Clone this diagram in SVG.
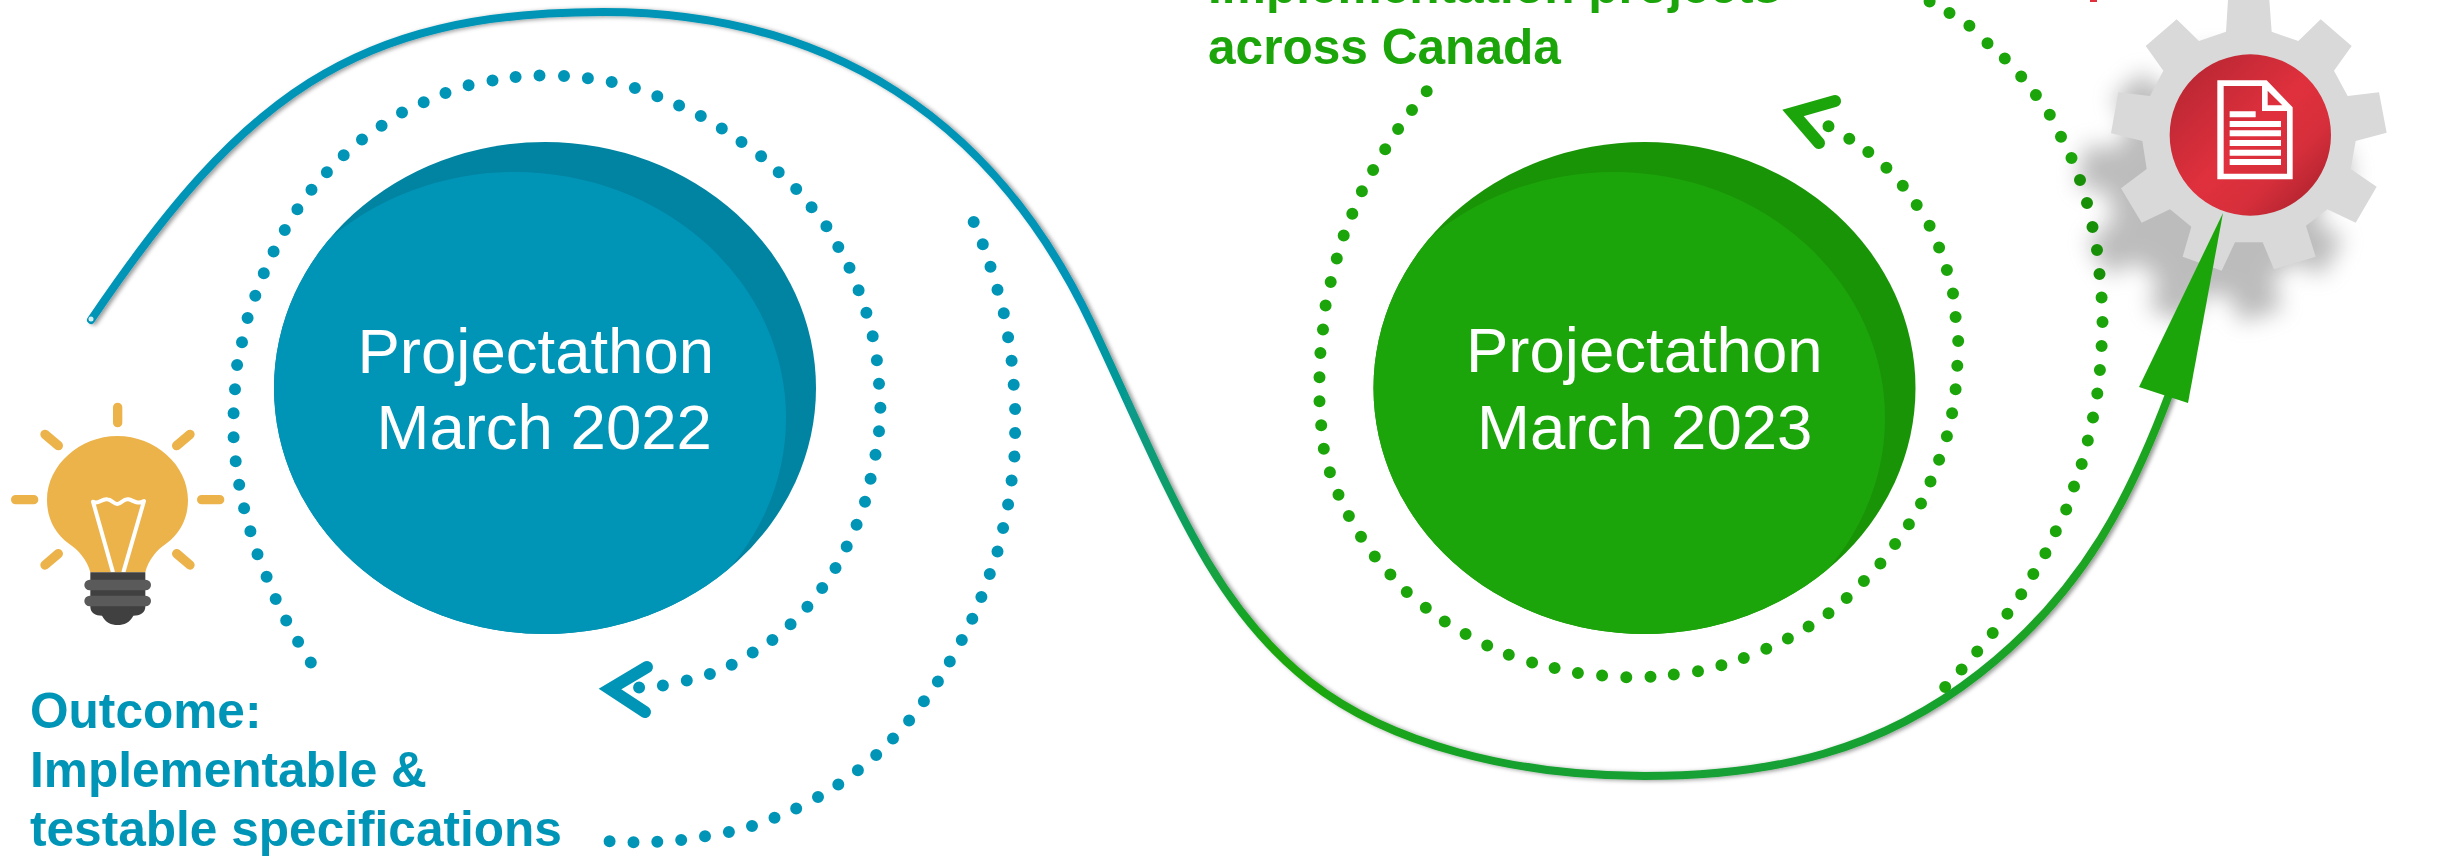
<svg xmlns="http://www.w3.org/2000/svg" width="2455" height="857" viewBox="0 0 2455 857">
<defs>
<linearGradient id="flow" gradientUnits="userSpaceOnUse" x1="1080" y1="0" x2="2172" y2="0">
<stop offset="0" stop-color="#0095b7"/><stop offset="0.18" stop-color="#1ca80a"/><stop offset="0.42" stop-color="#17a032"/><stop offset="0.66" stop-color="#17a035"/><stop offset="1" stop-color="#1ca51e"/>
</linearGradient>
<linearGradient id="redFill" x1="0.1" y1="0.1" x2="0.9" y2="0.9">
<stop offset="0" stop-color="#b92733"/><stop offset="0.5" stop-color="#e0303d"/><stop offset="0.75" stop-color="#d62f3b"/><stop offset="1" stop-color="#b1232e"/>
</linearGradient>
<filter id="lineShadow" filterUnits="userSpaceOnUse" x="60" y="0" width="2150" height="810"><feDropShadow dx="3" dy="1" stdDeviation="2" flood-color="#000" flood-opacity="0.4"/></filter>
<filter id="gearBlur" x="-40%" y="-40%" width="180%" height="180%"><feGaussianBlur stdDeviation="34"/></filter>
<clipPath id="clipBlue"><ellipse cx="545" cy="388" rx="271" ry="246"/></clipPath>
<clipPath id="clipGreen"><ellipse cx="1644.5" cy="388" rx="271" ry="246"/></clipPath>
<path id="gearShape" d="M528 95L534 0H658L665 95L745 123L812 58L905 138L852 212L893 288L987 277L1010 398L917 423L902 507L980 560L917 668L832 628L768 677L797 770L672 808L638 727H555L515 812L398 770L424 680L360 628L275 668L213 565L290 507L277 423L183 400L205 277L300 288L340 212L287 138L380 58L447 123Z"/>
</defs>
<style>
.title{font-family:"Liberation Sans",Arial,sans-serif;font-size:63.5px;fill:#fff}
.label{font-family:"Liberation Sans",Arial,sans-serif;font-weight:700;font-size:49.6px}
.blue{fill:#0095b7}.green{fill:#1ca50a}
.dots{fill:none;stroke-width:12;stroke-linecap:round}
.head{fill:none;stroke-width:12;stroke-linecap:round;stroke-linejoin:miter}
</style>
<rect width="2455" height="857" fill="#fff"/>

<g id="node-bulb" transform="translate(0 390) scale(.33333)">
<path fill="#ecb34b" d="M271 547C262 510 235 480 205 460C165 430 141 385 141 330C141 225 240 138 352 138C465 138 564 225 564 330C564 385 540 430 500 460C470 480 445 510 436 547Z"/>
<path fill="none" stroke="#ecb34b" stroke-width="28" stroke-linecap="round" d="M353 52V98M135 133L175 167M570 133L530 167M47 329H101M605 329H659M175 491L135 525M530 491L570 525"/>
<path fill="none" stroke="#fff" stroke-width="12" stroke-linejoin="round" d="M339 547L279 335C295 345 305 325 322 328C338 330 340 342 352 342C365 342 368 326 385 328C400 330 410 345 432 333L370 547"/>
<path fill="#404040" d="M271 547H436V650C436 668 420 677 400 677C390 697 372 705 353 705C334 705 316 697 306 677C286 677 271 668 271 650Z"/>
<rect x="253" y="569" width="200" height="32" rx="16" fill="#5a5a5a"/>
<rect x="253" y="617" width="200" height="32" rx="16" fill="#5a5a5a"/>
</g>

<g id="node-2022">
<ellipse cx="545" cy="388" rx="271" ry="246" fill="#0084a2"/>
<ellipse cx="515" cy="418" rx="271" ry="246" fill="#0095b7" clip-path="url(#clipBlue)"/>
<text class="title" x="357.500" y="373">Projectathon</text>
<text class="title" x="376.500" y="449">March 2022</text>
</g>

<g id="node-2023">
<ellipse cx="1644.5" cy="388" rx="271" ry="246" fill="#1a9407"/>
<ellipse cx="1614" cy="418" rx="271" ry="246" fill="#1ca50a" clip-path="url(#clipGreen)"/>
<text class="title" x="1466" y="372">Projectathon</text>
<text class="title" x="1477" y="449">March 2023</text>
</g>

<g id="node-gear" transform="translate(2050 0) scale(.33333)">
<use href="#gearShape" fill="#808080" opacity=".52" filter="url(#gearBlur)" transform="translate(-100 158)"/>
<use href="#gearShape" fill="#d9d9d9"/>
<circle cx="601" cy="405" r="242" fill="url(#redFill)"/>
<path fill="#fff" fill-rule="evenodd" d="M502 241H650L728 322V538H502ZM521 258V521H711V333H636V258ZM653 272V316H697Z"/>
<path fill="#fff" d="M539 334H617V352H539ZM539 363H693V381H539ZM539 391H693V409H539ZM539 420H693V438H539ZM539 449H693V467H539ZM539 477H693V495H539Z"/>
</g>

<g id="connectors">
<path class="dots" stroke="#0095b7" d="M310.800 662.500h0M298.100 641.700h0M286.200 620.400h0M275.700 599.100h0M266.600 576.700h0M257.500 554.300h0M250.400 531.300h0M244.100 508.300h0M239.200 484.800h0M235.700 461.300h0M233.600 437.300h0M233.600 413.200h0M235 389.200h0M237.100 365.100h0M242 342.200h0M247.600 318.100h0M255.300 295.700h0M263.800 273.300h0M273.600 251.400h0M284.800 230.100h0M297.400 209.300h0M311.500 189.700h0M326.900 172.200h0M343.700 155.200h0M362 139.400h0M381.600 125.700h0M402 112.600h0M423.700 102.200h0M445.500 92.900h0M468.600 85.300h0M492.500 80.400h0M515.600 77.100h0M539.500 75.400h0M564 76h0M587.900 78.200h0M611.700 82h0M634.900 88h0M657.300 96.200h0M679.100 105.500h0M700.800 115.900h0M721.800 128.500h0M741.500 142.100h0M761.100 156.300h0M778.700 172.200h0M796.200 189.100h0M811.600 207.200h0M826.400 226.300h0M838.300 247.100h0M849.500 267.800h0M858.600 290.200h0M866.400 312.700h0M872.700 336.200h0M876.900 360.200h0M879 383.700h0M880.400 407.800h0M879 431.300h0M875.500 454.800h0M870.600 478.800h0M865 501.800h0M856.600 524.700h0M846.700 546.600h0M835.500 567.900h0M822.200 588.100h0M807.400 606.700h0M790.600 624.200h0M772.400 640.100h0M752.700 652.600h0M731.700 664.700h0M709.900 674h0M686.800 680.500h0M662.900 685.400h0M639.100 687.600h0"/>
<path class="dots" stroke="#0095b7" d="M973.700 221.900h0M982.800 244.300h0M990.500 266.700h0M997.500 289.700h0M1003.800 313.200h0M1008.100 337.300h0M1011.600 360.800h0M1013.700 384.800h0M1015.100 408.900h0M1015.100 432.900h0M1014.400 456.400h0M1011.600 480.500h0M1008.100 504.500h0M1003.100 528h0M997.500 551.500h0M989.800 573.900h0M981.400 596.900h0M972.300 618.800h0M961.800 640.100h0M949.800 661.400h0M937.900 681.600h0M923.900 701.300h0M909.100 720.400h0M893 738.500h0M876.200 754.900h0M857.900 770.200h0M838.300 784.400h0M818 796.900h0M796.200 808.400h0M774.500 817.700h0M752 825.900h0M728.900 831.900h0M705 836.300h0M681.200 840.100h0M657.300 841.800h0M633.500 842.300h0M609.600 841.200h0"/>
<path class="head" stroke="#0095b7" d="M647 667L610 689L645 712"/>
<path class="dots" stroke="#1ca50a" d="M1426.700 91.300h0M1412 109.900h0M1398.100 129h0M1385.200 149.200h0M1373.100 170h0M1361.900 191.300h0M1352.300 213.700h0M1343.700 235.600h0M1336.800 258.500h0M1330.700 282h0M1325.600 305.600h0M1323 329.600h0M1320.400 353.100h0M1319.500 377.200h0M1319.500 401.200h0M1321.200 425.300h0M1323.800 448.800h0M1329.900 472.300h0M1338.500 494.700h0M1348.900 516h0M1361 536.800h0M1374.800 556.400h0M1390.400 574.500h0M1406.800 592h0M1425.800 607.800h0M1444.800 621.500h0M1465.600 634.100h0M1487.200 645.500h0M1508.800 654.800h0M1532.100 662.500h0M1554.600 667.900h0M1577.900 672.900h0M1602.100 675.600h0M1626.300 677.200h0M1650.500 676.700h0M1673.800 674.500h0M1698 671.200h0M1721.400 665.200h0M1743.800 658.100h0M1766.300 648.800h0M1787.900 638.400h0M1808.600 626.400h0M1828.500 613.300h0M1846.700 598h0M1863.900 581h0M1880.400 563.500h0M1895.100 543.900h0M1908.900 524.200h0M1921 503.400h0M1930.500 481.600h0M1939.100 459.700h0M1946.900 436.200h0M1952.100 413.200h0M1955.600 389.200h0M1957.300 365.700h0M1958.200 341.100h0M1955.600 317h0M1953 293.500h0M1946.900 270h0M1939.100 247.600h0M1929.600 225.700h0M1916.700 205h0M1902.800 185.800h0M1886.400 167.800h0M1868.300 152h0M1849.300 138.800h0M1828.500 126.300h0"/>
<path class="dots" stroke="#1ca50a" d="M1929.600 1.600h0M1949.500 13.100h0M1969.400 25.700h0M1987.500 43.200h0M2004.800 58.500h0M2021.200 76.500h0M2035.900 95.100h0M2049.800 114.800h0M2061 136.700h0M2071.500 158h0M2101.600 297.400h0M2102.500 321.900h0M2101.600 346h0M2099.900 370.100h0M2097.300 393.600h0M2093 417.600h0M2087.800 440.600h0M2081.700 464.100h0M2074 486.500h0M2066.200 509.400h0M2055.800 531.300h0M2045.400 553.200h0M2033.300 573.900h0M2021.200 594.200h0M2007.400 613.800h0M1992.700 633h0M1977.200 651.600h0M1961.600 669.600h0M1945.200 687.100h0"/>
<path class="dots" stroke="#179007" d="M2080 180h0M2087 203h0M2092.500 227h0M2097 250h0M2099.500 274h0"/>
<path class="head" stroke="#1ca50a" d="M1835 101L1793 113L1819 143"/>
<path id="flow-line" d="M91 320C242 97 353 12 603 12C828 12 994 117 1093 327C1172 495 1211 604 1310 682C1389 744 1514 776 1644 776C1774 776 1881 751 1980 673C2086 590 2132.500 492 2170 392" fill="none" stroke="url(#flow)" stroke-width="8" stroke-linecap="round" filter="url(#lineShadow)"/>
<circle cx="91" cy="319" r="2.500" fill="#d8eef3"/>
<polygon fill="#1ca50a" points="2223,213 2139,387 2188,403"/>
</g>

<g id="labels">
<g class="label blue">
<text x="30" y="728">Outcome:</text>
<text x="30" y="787">Implementable &amp;</text>
<text x="30" y="846">testable specifications</text>
</g>
<g class="label green">
<text x="1208" y="3">Implementation projects</text>
<text x="1208" y="64">across Canada</text>
</g>
<rect x="2090" y="0" width="7" height="2" fill="#e0303d"/>
</g>
</svg>
